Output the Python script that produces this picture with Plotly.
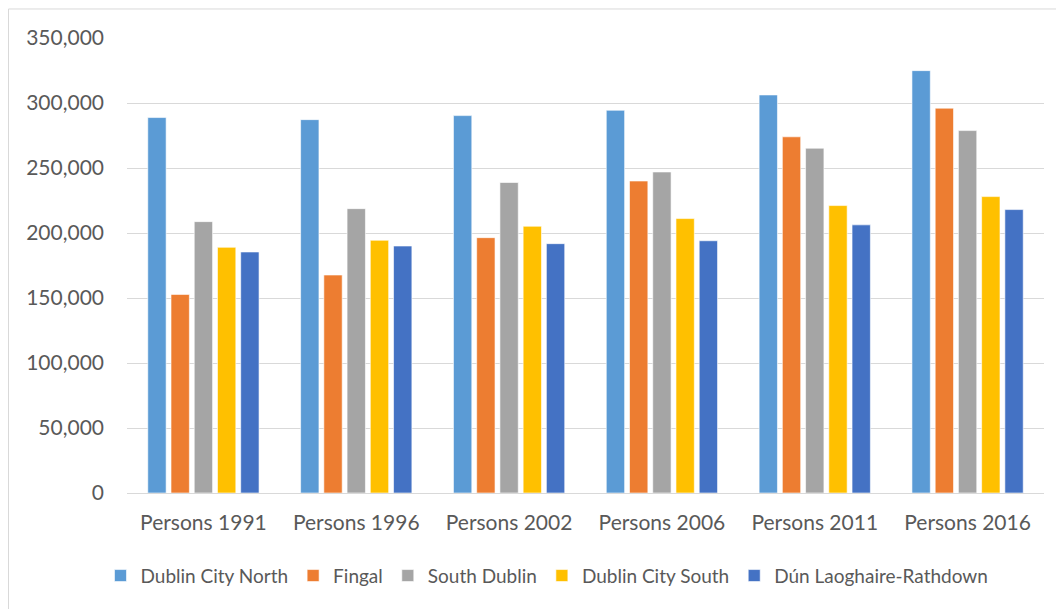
import plotly.graph_objects as go

categories = ['Persons 1991', 'Persons 1996', 'Persons 2002', 'Persons 2006', 'Persons 2011', 'Persons 2016']

dublin_city_north = [288800, 287200, 290300, 294400, 306200, 324900]
fingal = [152766, 167683, 196413, 239992, 273991, 296020]
south_dublin = [208739, 218728, 238835, 246935, 265205, 278767]
dublin_city_south = [189000, 194400, 205200, 211100, 221100, 228000]
dun_laoghaire = [185410, 189999, 191792, 194038, 206261, 218018]

series = [
    ('Dublin City North', dublin_city_north, '#5B9BD5'),
    ('Fingal', fingal, '#ED7D31'),
    ('South Dublin', south_dublin, '#A5A5A5'),
    ('Dublin City South', dublin_city_south, '#FFC000'),
    ('Dún Laoghaire-Rathdown', dun_laoghaire, '#4472C4'),
]

fig = go.Figure()
for name, vals, col in series:
    fig.add_trace(go.Bar(
        x=categories, y=vals, name=name,
        marker=dict(color=col, line=dict(color='rgba(255,255,255,0.6)', width=1))
    ))

txt = '#595959'
# page body has an 8px margin, so the figure is 8px smaller than the window
fig.update_layout(
    width=1056, height=601,
    margin=dict(l=119, r=20, t=30, b=116, autoexpand=False),
    paper_bgcolor='white', plot_bgcolor='white',
    font=dict(family='Lato, "Open Sans", sans-serif', size=21, color=txt),
    barmode='group', bargap=0.24, bargroupgap=0.21,
    yaxis=dict(range=[0, 350000], dtick=50000, tickformat=',d',
               showgrid=True, gridcolor='#D9D9D9', gridwidth=1,
               zeroline=False, showline=False, ticks='', ticklabelstandoff=22,
               tickfont=dict(size=21, color=txt)),
    xaxis=dict(showline=True, linecolor='#D9D9D9', linewidth=1, ticks='',
               ticklabelstandoff=11, tickfont=dict(size=21, color=txt)),
    legend=dict(orientation='h', x=0.458, xanchor='center', y=-0.14, yanchor='top',
                font=dict(size=19, color=txt), itemwidth=30, traceorder='normal'),
    shapes=[dict(type='rect', xref='paper', yref='paper',
                 x0=-0.1292, x1=1.05, y0=-0.3, y1=1.0638,
                 line=dict(color='#D9D9D9', width=1), fillcolor='rgba(0,0,0,0)', layer='below')],
)

fig.write_html('out.html')
